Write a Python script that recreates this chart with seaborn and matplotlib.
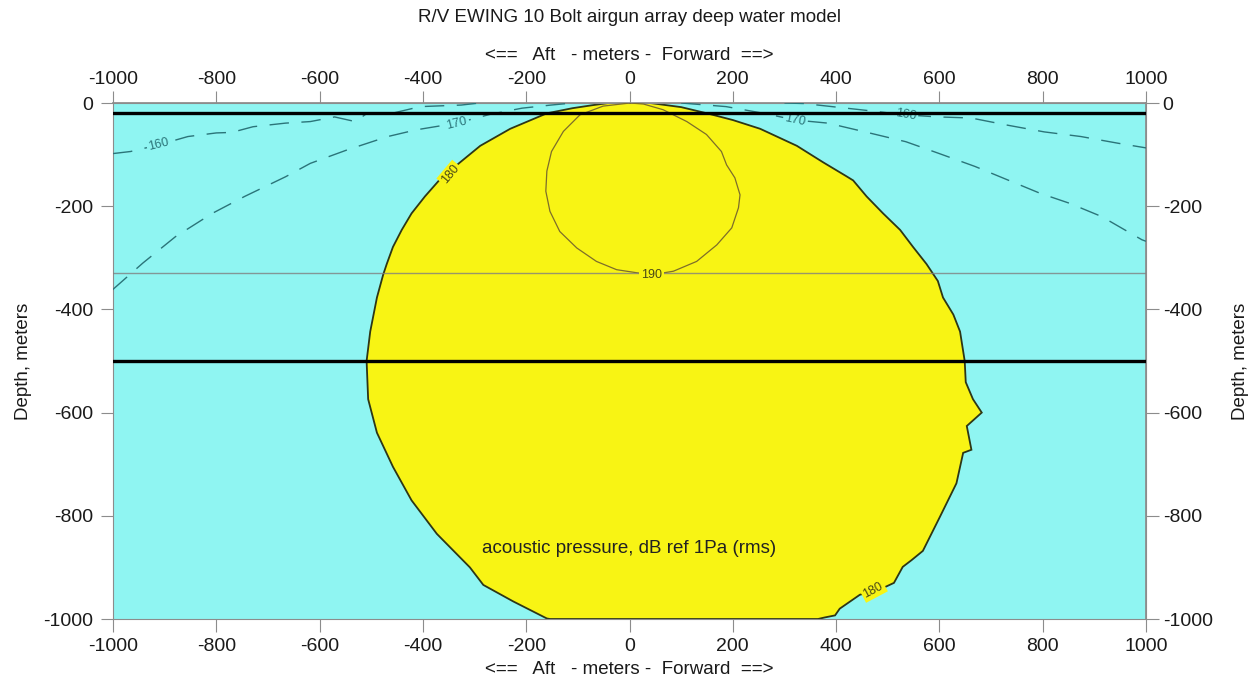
import numpy as np
import pandas as pd
import matplotlib
matplotlib.use("Agg")
import matplotlib.pyplot as plt
import seaborn as sns

# ---------------- data ----------------
# 180 dB region outline (x = along-track metres, d = depth metres), clockwise from top
zone180_x = [-40, 0, 40, 100, 150, 200, 253, 324, 375, 420, 433, 459, 491, 524, 549, 575,
             597, 607, 627, 640, 649, 651, 665, 682, 653, 662, 646, 633, 601, 568, 546,
             529, 512, 480, 446, 407, 398, 378, 365,
             -154, -160, -225, -283, -309, -373, -422, -458, -489, -506, -509, -502,
             -489, -477, -470, -458, -441, -422, -396, -367, -328, -289, -231, -160,
             -110, -70]
zone180_d = [0, 0, 0, -8, -20, -33, -50, -83, -115, -142, -150, -181, -214, -246, -279, -312,
             -345, -377, -410, -443, -500, -541, -574, -600, -626, -672, -678, -737, -802, -868, -886,
             -899, -930, -945, -953, -980, -993, -997, -1000,
             -1000, -999, -966, -934, -900, -835, -770, -705, -639, -574, -500, -443,
             -377, -333, -312, -279, -246, -214, -181, -148, -115, -83, -50, -20,
             -10, -4]

# 190 dB contour
c190_x = [1, -51, -96, -128, -151, -160, -162, -154, -135, -102, -64, -25, 14, 43, 85, 130,
          169, 198, 211, 214, 204, 188, 178, 149, 111, 65, 27, 1]
c190_d = [0, -6, -23, -55, -94, -132, -171, -210, -249, -281, -307, -323, -329, -333, -326, -307,
          -275, -242, -203, -178, -145, -120, -94, -61, -36, -13, -2, 0]

# 170 dB contour (left / right branches)
c170L_x = [-1001, -942, -879, -808, -745, -666, -618, -547, -468, -413, -334, -270, -208, -152, -110]
c170L_d = [-362, -310, -259, -214, -181, -143, -117, -91, -65, -52, -39, -22, -10, -4, 0]
c170R_x = [100, 187, 260, 321, 384, 456, 535, 597, 669, 732, 795, 851, 914, 992, 1000]
c170R_d = [0, -7, -20, -33, -39, -56, -75, -97, -123, -149, -175, -194, -220, -265, -268]

# 160 dB contour (left / right branches)
c160L_x = [-1000, -966, -911, -855, -800, -770, -729, -666, -618, -571, -531, -508, -460, -405, -326, -290]
c160L_d = [-98, -94, -81, -65, -58, -57, -46, -39, -36, -27, -36, -20, -20, -7, -4, 0]
c160R_x = [300, 337, 392, 456, 535, 597, 661, 732, 803, 874, 946, 1000]
c160R_d = [0, -1, -7, -14, -23, -27, -29, -43, -56, -65, -78, -87]

# horizontal reference depths
thick_depths = [-20, -500]
thin_depths = [-330]

# contour labels: (text, x, depth, rotation, colour key)
label_text = ["160", "170", "180", "170", "160", "190", "180"]
label_x = [-911, -334, -347, 321, 535, 43, 472]
label_d = [-81, -39, -138, -33, -23, -333, -944]
label_rot = [14, 14, 50, -12, -10, 0, 28]
label_kind = ["cyan", "cyan", "yellow", "cyan", "cyan", "yellow", "yellow"]

x_ticks = [-1000, -800, -600, -400, -200, 0, 200, 400, 600, 800, 1000]
y_ticks = [0, -200, -400, -600, -800, -1000]

title = "R/V EWING 10 Bolt airgun array deep water model"
x_label = "<==   Aft   - meters -  Forward  ==>"
y_label = "Depth, meters"
note = "acoustic pressure, dB ref 1Pa (rms)"

# ---------------- styling ----------------
CYAN = "#8ff5f2"
YELLOW = "#f8f414"
DASH = "#2b7479"
EDGE = "#2d3616"
OLIVE = "#7d6d2a"
TICKC = "#8c8c8c"

sns.set_theme(style="white")
plt.rcParams["font.family"] = ["Liberation Sans", "DejaVu Sans"]

fig = plt.figure(figsize=(12.6, 6.86), dpi=100)
ax = fig.add_axes([113 / 1260, 1 - 619 / 686, (1146 - 113) / 1260, (619 - 103) / 686])
ax.set_facecolor(CYAN)

# filled 180 dB zone
ax.fill(zone180_x, zone180_d, facecolor=YELLOW, edgecolor=EDGE, linewidth=1.3, zorder=2)

# contour lines through seaborn
def draw(xs, ds, **kw):
    df = pd.DataFrame({"x": xs, "d": ds})
    sns.lineplot(data=df, x="x", y="d", sort=False, estimator=None, ax=ax, legend=False, **kw)

for xs, ds in [(c170L_x, c170L_d), (c170R_x, c170R_d), (c160L_x, c160L_d), (c160R_x, c160R_d)]:
    draw(xs, ds, color=DASH, linewidth=1.0, dashes=(14, 9), zorder=3)
draw(c190_x, c190_d, color=OLIVE, linewidth=0.9, zorder=3)

for d in thin_depths:
    ax.axhline(d, color="#808080", linewidth=1.0, alpha=0.8, zorder=4)
for d in thick_depths:
    ax.axhline(d, color="black", linewidth=2.4, zorder=6)

for t, x, d, r, k in zip(label_text, label_x, label_d, label_rot, label_kind):
    bg = CYAN if k == "cyan" else YELLOW
    col = DASH if k == "cyan" else "#4a4a14"
    ax.text(x, d, t, rotation=r, rotation_mode="anchor", ha="center", va="center",
            fontsize=9, color=col, zorder=5,
            bbox=dict(boxstyle="square,pad=0.15", facecolor=bg, edgecolor="none"))

ax.text(0, -864, note, ha="center", va="center", fontsize=13.5, color="#222222", zorder=7)

ax.set_xlim(-1000, 1000)
ax.set_ylim(-1000, 0)
ax.set_xticks(x_ticks)
ax.set_yticks(y_ticks)
ax.set_xticklabels([str(v) for v in x_ticks])
ax.set_yticklabels([str(v) for v in y_ticks])
ax.tick_params(axis="both", direction="out", length=9, width=0.8, color=TICKC,
               labelsize=14, labelcolor="#1a1a1a", bottom=True, left=True)
ax.tick_params(axis="x", pad=5)
ax.tick_params(axis="y", pad=5)
ax.set_xlabel(x_label, fontsize=13.5, labelpad=4, color="#1a1a1a")
ax.set_ylabel(y_label, fontsize=13.5, labelpad=8, color="#1a1a1a")
for s in ax.spines.values():
    s.set_color(TICKC)
    s.set_linewidth(0.8)

top = ax.secondary_xaxis("top")
top.set_xticks(x_ticks)
top.set_xticklabels([str(v) for v in x_ticks])
top.tick_params(direction="out", length=9, width=0.8, color=TICKC, labelsize=14,
                labelcolor="#1a1a1a", pad=2)
top.set_xlabel(x_label, fontsize=13.5, labelpad=8, color="#1a1a1a")
top.spines["top"].set_color(TICKC)

right = ax.secondary_yaxis("right")
right.set_yticks(y_ticks)
right.set_yticklabels([str(v) for v in y_ticks])
right.tick_params(direction="out", length=9, width=0.8, color=TICKC, labelsize=14,
                  labelcolor="#1a1a1a", pad=3)
right.set_ylabel(y_label, fontsize=13.5, labelpad=14, color="#1a1a1a")
right.spines["right"].set_color(TICKC)

fig.text(0.5, 1 - 18 / 686, title, ha="center", va="center", fontsize=13.5, color="#1a1a1a")

fig.savefig("out.png", dpi=100, facecolor="white")
